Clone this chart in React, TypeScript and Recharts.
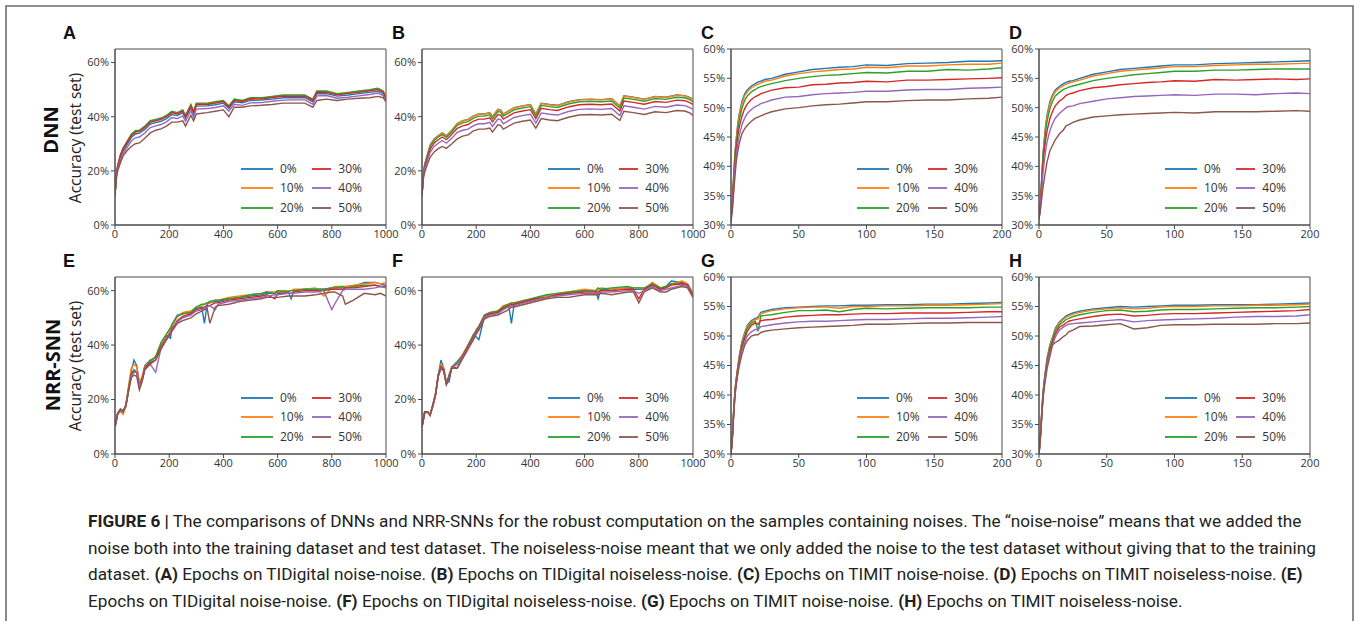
import React from 'react';
import { LineChart, Line, XAxis, YAxis, ReferenceArea, Legend } from 'recharts';

const FONT = "'Open Sans', 'DejaVu Sans', sans-serif";
const NOISE_LEVELS = ['0%', '10%', '20%', '30%', '40%', '50%'];
const COLORS = ['#1f77b4', '#ff7f0e', '#2ca02c', '#d62728', '#9467bd', '#8c564b'];

const TIDIGIT_X_TICKS = [0, 200, 400, 600, 800, 1000];
const TIMIT_X_TICKS = [0, 50, 100, 150, 200];
const TIDIGIT_Y_TICKS = [0, 20, 40, 60];
const TIMIT_Y_TICKS = [30, 35, 40, 45, 50, 55, 60];

// epochs sampled for each group of panels
const DNN_TI_EPOCHS = [0, 5, 10, 20, 30, 45, 60, 75, 90, 110, 130, 150, 170, 190, 210, 230, 250, 260, 280, 290, 300, 340, 370, 400, 420, 440, 470, 500, 540, 580, 620, 660, 700, 730, 745, 780, 820, 860, 900, 940, 970, 990, 1000];
const TIMIT_EPOCHS = [0, 1, 2, 3, 4, 5, 6, 8, 10, 12, 15, 18, 20, 22, 25, 30, 40, 50, 60, 70, 80, 90, 100, 115, 130, 145, 160, 175, 190, 200];
const SNN_E_EPOCHS = [0, 10, 20, 30, 40, 50, 60, 70, 80, 90, 100, 110, 130, 150, 170, 190, 205, 210, 230, 250, 280, 300, 320, 330, 340, 350, 370, 380, 420, 460, 500, 540, 560, 590, 600, 640, 650, 660, 700, 740, 770, 800, 810, 840, 850, 880, 920, 960, 980, 1000];
const SNN_F_EPOCHS = [0, 10, 20, 30, 40, 50, 60, 70, 80, 90, 100, 110, 130, 150, 170, 190, 200, 210, 230, 250, 280, 300, 320, 330, 340, 380, 420, 460, 500, 540, 600, 640, 650, 660, 700, 760, 780, 800, 820, 850, 880, 900, 920, 960, 980, 1000];

// (A) DNN, TIDigital noise-noise
const A_0 = [11, 18.5, 21.3, 25, 27.4, 29.8, 32.3, 33.6, 33.9, 35.3, 37.3, 37.8, 38.3, 39.3, 40.8, 40.4, 41.4, 39.4, 43.3, 40.9, 43.9, 44, 44.4, 45, 43, 45.5, 45.1, 46, 46.1, 46.5, 47, 47, 47, 45.5, 48.5, 48.5, 47.6, 48, 48.5, 49, 49.4, 48.5, 46.2];
const A_10 = [11, 18.9, 21.8, 25.8, 28.2, 30.7, 33.2, 34.4, 34.7, 36.2, 38.2, 38.7, 39.2, 40.2, 41.7, 41.2, 42.2, 40.2, 44.2, 41.7, 44.7, 44.7, 45.2, 45.7, 43.7, 46.2, 45.7, 46.7, 46.7, 47.2, 47.7, 47.7, 47.7, 46.2, 49.2, 49.2, 48.2, 48.7, 49.2, 49.7, 50.2, 49.2, 46.8];
const A_20 = [11, 19, 22, 26, 28.5, 31, 33.5, 34.8, 35, 36.5, 38.5, 39, 39.5, 40.5, 42, 41.5, 42.5, 40.5, 44.5, 42, 45, 45, 45.5, 46, 44, 46.5, 46, 47, 47, 47.5, 48, 48, 48, 46.5, 49.5, 49.5, 48.5, 49, 49.5, 50, 50.5, 49.5, 47];
const A_30 = [11, 18.8, 21.7, 25.6, 28.1, 30.5, 33, 34.3, 34.6, 36, 38, 38.5, 39, 40, 41.5, 41, 42, 40, 44, 41.6, 44.6, 44.5, 45, 45.6, 43.5, 46, 45.6, 46.6, 46.5, 47.1, 47.6, 47.5, 47.6, 46, 49.1, 49, 48.1, 48.6, 49, 49.6, 50, 49.1, 46.6];
const A_40 = [11, 18, 20.6, 24, 26.4, 28.7, 31, 32.2, 32.5, 34, 36, 36.6, 37.1, 38.1, 39.7, 39.3, 40.3, 38.3, 42.2, 39.8, 42.8, 43, 43.4, 44, 42, 44.6, 44.2, 45.1, 45.2, 45.7, 46.1, 46.2, 46.2, 44.6, 47.7, 47.8, 46.8, 47.2, 47.7, 48.2, 48.7, 47.8, 45.6];
const A_50 = [11, 17, 20, 23, 25.5, 27.5, 29, 30, 30.3, 32, 34, 35, 35.5, 36.5, 38, 38, 38.5, 36.5, 40.5, 38.5, 41, 41.5, 42, 42.5, 40, 43.5, 43.5, 44, 44.2, 44.5, 45, 45, 45, 43.5, 46, 46.5, 46, 46.5, 46.8, 47, 47.5, 47, 45.5];

// (B) DNN, TIDigital noiseless-noise
const B_0 = [11, 19, 22.5, 26, 29.5, 31.8, 33, 34, 33, 35, 37.5, 38.5, 39, 40.3, 41, 41, 41.5, 40, 42.7, 42.5, 41, 43.3, 44, 44.5, 41, 45, 44.5, 44.2, 45.5, 46.3, 46.5, 46.3, 46.6, 44, 47.7, 47.2, 46.5, 47.5, 47.2, 48, 47.8, 47, 46.4];
const B_10 = [11, 19, 22.4, 25.9, 29.4, 31.7, 32.9, 33.9, 32.9, 34.9, 37.4, 38.4, 38.9, 40.2, 40.9, 40.9, 41.4, 39.9, 42.6, 42.4, 40.9, 43.2, 43.9, 44.4, 40.9, 44.9, 44.4, 44.1, 45.4, 46.2, 46.4, 46.2, 46.5, 43.9, 47.6, 47.1, 46.4, 47.4, 47.1, 47.9, 47.7, 46.9, 46.3];
const B_20 = [11, 18.8, 22.1, 25.5, 29, 31.2, 32.5, 33.4, 32.4, 34.4, 36.8, 37.7, 38.2, 39.5, 40.2, 40.2, 40.7, 39.2, 41.9, 41.7, 40.2, 42.5, 43.2, 43.7, 40.3, 44.2, 43.7, 43.4, 44.7, 45.5, 45.7, 45.5, 45.8, 43.2, 46.9, 46.4, 45.7, 46.7, 46.4, 47.2, 47, 46.2, 45.6];
const B_30 = [11, 18.5, 21.5, 24.8, 28, 30.3, 31.5, 32.5, 31.5, 33.5, 35.7, 36.6, 37.1, 38.4, 39.1, 39.1, 39.6, 38.1, 40.8, 40.6, 39.1, 41.4, 42.1, 42.6, 39.3, 43.1, 42.6, 42.3, 43.6, 44.4, 44.6, 44.4, 44.7, 42.1, 45.8, 45.3, 44.6, 45.6, 45.3, 46.1, 45.9, 45.1, 44.5];
const B_40 = [11, 18, 20.8, 23.8, 26.8, 29, 30.2, 31.2, 30.2, 32, 34.2, 35, 35.4, 36.7, 37.4, 37.4, 37.9, 36.4, 39.1, 38.9, 37.4, 39.7, 40.4, 40.9, 37.6, 41.4, 40.9, 40.6, 41.9, 42.7, 42.9, 42.7, 43, 40.4, 44, 43.5, 42.8, 43.8, 43.5, 44.3, 44.1, 43.3, 42.7];
const B_50 = [11, 17, 19.5, 22.5, 25, 27, 28.2, 29, 28.3, 30, 31.8, 32.8, 33.3, 34.8, 35.4, 35.4, 35.8, 34.3, 37, 36.8, 35.4, 37.6, 38.3, 38.8, 35.8, 39.3, 38.8, 38.5, 39.8, 40.6, 40.8, 40.6, 40.9, 38.6, 42, 41.5, 40.8, 41.8, 41.5, 42.3, 42.1, 41.3, 40.4];

// (C) DNN, TIMIT noise-noise
const C_0 = [31.5, 34, 38.5, 42.5, 45, 47.3, 48.8, 51, 52.3, 53, 53.7, 54.1, 54.4, 54.5, 54.8, 55, 55.7, 56.1, 56.5, 56.7, 56.9, 57, 57.3, 57.2, 57.5, 57.6, 57.7, 57.9, 57.9, 58];
const C_10 = [31.5, 34, 38.3, 42.3, 44.8, 47, 48.5, 50.6, 52, 52.7, 53.4, 53.8, 54, 54.2, 54.5, 54.7, 55.4, 55.8, 56.1, 56.3, 56.5, 56.6, 56.9, 56.8, 57.1, 57.1, 57.3, 57.4, 57.4, 57.6];
const C_20 = [31.5, 33.8, 38, 41.8, 44.2, 46.3, 47.8, 49.8, 51.2, 52, 52.7, 53.1, 53.4, 53.6, 53.8, 54.1, 54.6, 55, 55.3, 55.5, 55.6, 55.8, 56, 55.9, 56.2, 56.2, 56.5, 56.4, 56.6, 56.8];
const C_30 = [31.5, 33.5, 37.5, 41, 43.3, 45.2, 46.6, 48.5, 49.8, 50.6, 51.4, 51.9, 52.1, 52.4, 52.6, 53, 53.4, 53.5, 53.9, 54, 54.2, 54.3, 54.5, 54.4, 54.7, 54.7, 54.8, 54.9, 55, 55.1];
const C_40 = [31, 33, 36.5, 40, 42, 43.8, 45.2, 47, 48.2, 49, 49.7, 50.2, 50.4, 50.7, 50.9, 51.3, 51.8, 51.9, 52.2, 52.4, 52.5, 52.6, 52.8, 52.8, 53, 53.1, 53.1, 53.3, 53.4, 53.5];
const C_50 = [30.5, 32.5, 35.5, 38.5, 41, 42.5, 43.8, 45.5, 46.4, 47, 47.7, 48.2, 48.4, 48.6, 48.9, 49.3, 49.8, 50, 50.3, 50.5, 50.6, 50.8, 51, 51, 51.2, 51.3, 51.3, 51.5, 51.6, 51.8];

// (D) DNN, TIMIT noiseless-noise
const D_0 = [31, 33.5, 38, 42.3, 44.8, 47.2, 48.8, 51, 52.2, 53, 53.6, 54.1, 54.3, 54.5, 54.6, 55, 55.7, 56.1, 56.5, 56.7, 56.9, 57.1, 57.3, 57.3, 57.5, 57.6, 57.7, 57.8, 57.9, 58];
const D_10 = [31, 33.5, 37.8, 42, 44.5, 46.9, 48.4, 50.6, 51.9, 52.7, 53.3, 53.8, 54, 54.2, 54.4, 54.7, 55.4, 55.8, 56.2, 56.4, 56.6, 56.8, 57, 57, 57.2, 57.3, 57.4, 57.4, 57.5, 57.6];
const D_20 = [31, 33.3, 37.5, 41.5, 44, 46.2, 47.7, 49.8, 51.1, 52, 52.6, 53.1, 53.3, 53.5, 53.7, 54, 54.6, 55, 55.3, 55.6, 55.8, 56, 56.2, 56.2, 56.4, 56.4, 56.5, 56.6, 56.6, 56.6];
const D_30 = [31.2, 33.3, 37.2, 40.6, 42.9, 44.7, 46.1, 48.1, 49.4, 50.3, 51.1, 51.6, 52.1, 52.3, 52.5, 52.9, 53.4, 53.6, 53.9, 54.1, 54.3, 54.4, 54.6, 54.5, 54.8, 54.7, 54.8, 54.9, 54.8, 54.9];
const D_40 = [31, 33, 36, 39, 41, 42.8, 44.2, 46, 47.3, 48.2, 49, 49.6, 50, 50.2, 50.3, 50.7, 51.1, 51.5, 51.7, 51.9, 52, 52.1, 52.2, 52.1, 52.3, 52.3, 52.2, 52.4, 52.5, 52.4];
const D_50 = [31, 32.5, 34.5, 36.5, 38, 39.5, 40.8, 42.6, 43.6, 44.5, 45.5, 46.2, 46.9, 47.1, 47.5, 47.9, 48.4, 48.6, 48.8, 48.9, 49, 49.1, 49.2, 49.1, 49.3, 49.3, 49.3, 49.4, 49.5, 49.4];

// (E) NRR-SNN, TIDigital noise-noise
const E_0 = [10, 15, 16.5, 15.5, 18, 24, 30.5, 34.5, 32.5, 26, 28, 32.5, 34.5, 35.5, 40.5, 43.5, 42.5, 47.5, 51, 51.5, 52, 53.5, 54, 48, 55, 55.5, 56, 56, 57, 57.5, 58, 58.5, 59, 59, 59.5, 59.5, 57, 60, 60.5, 60.5, 60.5, 61, 61, 61, 61, 61.5, 63, 63, 62.5, 62];
const E_10 = [10, 15, 15.5, 14.5, 18, 25, 31.5, 33, 32, 26, 28.5, 32, 34, 36, 40.5, 44, 46, 47, 50.5, 52, 52.5, 54, 54.5, 55, 55.5, 55.5, 56.5, 56.5, 57.5, 58, 58.5, 59, 59.5, 59.5, 60, 60, 60, 60.5, 60.5, 61, 58, 61, 61.5, 61.5, 61.5, 62, 62.5, 63, 62.5, 63];
const E_20 = [10, 15, 16.5, 16, 18, 24, 29.5, 31, 30, 24.5, 27, 31.5, 34, 35.5, 41, 44, 46.5, 47.5, 50.5, 51.5, 52, 54, 55, 55, 55.5, 56, 56.5, 56.5, 57, 57.5, 58.5, 59, 59.5, 59, 60, 59.5, 60, 60, 60.5, 60.5, 60.5, 61, 61, 61.5, 61, 61.5, 62, 62, 61.5, 61.5];
const E_30 = [10, 15, 16, 15.5, 17.5, 23.5, 29, 30.5, 30, 25, 27.5, 31.5, 33.5, 34.5, 39.5, 42.5, 45, 46, 49, 50.5, 51.5, 53, 53.5, 54, 54.5, 54.5, 55.5, 55.5, 56.5, 57, 57.5, 58, 58.5, 57, 59, 59, 59, 59.5, 60, 60, 60, 60.5, 60.5, 60.5, 61, 61, 61.5, 62, 61.5, 61.5];
const E_40 = [10, 14.5, 16, 15.5, 17.5, 23, 28.5, 30, 30, 25, 27, 31, 33, 30, 39, 42, 44.5, 45.5, 48.5, 50, 51, 52.5, 53, 53.5, 54, 54.5, 53, 55, 56, 56.5, 57, 57.5, 58, 58.5, 58.5, 59, 59, 59, 59.5, 59.5, 60, 53, 55, 60, 60.5, 60.5, 60.5, 61, 61.5, 61];
const E_50 = [10, 15, 16.5, 15.5, 17.5, 23, 28, 29, 28.5, 23.5, 26.5, 31, 33, 34.5, 38.5, 42, 44, 45, 48, 49, 50, 51.5, 52.5, 53, 53.5, 48, 54, 54.5, 55, 56, 56.5, 57, 57.5, 57.5, 57.5, 58, 58, 58, 58, 58.5, 59, 59.5, 59.5, 58, 55, 56.5, 59, 58.5, 59, 58];

// (F) NRR-SNN, TIDigital noiseless-noise
const F_0 = [10, 15.5, 15.5, 14.5, 18, 22, 29, 34.5, 31.5, 26, 26.5, 32, 34, 36.5, 40, 44, 43, 42, 50.5, 51.5, 52, 53.5, 54.5, 48, 55, 56, 57, 58, 58.5, 59, 60, 60, 57, 60.5, 60.5, 61, 60.5, 60.5, 60.5, 62.5, 60.5, 61.5, 63.5, 63, 62.5, 59];
const F_10 = [10, 15.5, 15.5, 14.5, 18, 22.5, 29, 33, 31.5, 26, 29, 32, 33.5, 36.5, 40, 43.5, 45.5, 47, 50.5, 51.5, 52.5, 54.5, 55, 55.5, 55.5, 56.5, 57, 58, 59, 59.5, 60.5, 60, 60, 61, 60.5, 61, 61, 61, 60.5, 63, 61, 61.5, 62.5, 63.5, 62.5, 58.5];
const F_20 = [10, 15.5, 15.5, 14.5, 18, 22, 29, 32, 31, 25.5, 29, 31.5, 33.5, 36, 40, 43.5, 45.5, 47, 51, 52, 52.5, 54, 55, 55.5, 55.5, 56.5, 57.5, 58.5, 59, 59.5, 60, 60, 61, 60.5, 61, 61.5, 61, 61, 61, 62.5, 61, 61.5, 62.5, 62.5, 62, 58];
const F_30 = [10, 15.5, 15.5, 14.5, 18, 22, 29, 32, 31, 26, 28.5, 32, 31.5, 36, 39.5, 43, 45, 46.5, 50.5, 51.5, 52, 53.5, 54.5, 55, 55, 56, 57, 57.5, 58.5, 59, 59.5, 59.5, 59.5, 60, 60, 60.5, 60.5, 57, 60.5, 62, 60.5, 61, 62, 62.5, 62, 58];
const F_40 = [10, 15, 15.5, 14.5, 17.5, 21.5, 28.5, 31.5, 30.5, 25.5, 28.5, 31.5, 33, 35.5, 39, 42.5, 44.5, 46, 50, 51, 51.5, 53, 54, 54.5, 54.5, 55.5, 56.5, 57.5, 58, 58.5, 59, 59, 59, 59.5, 59.5, 60, 60, 59, 60, 61.5, 60, 60.5, 61, 62, 61.5, 57.5];
const F_50 = [10, 15, 15.5, 14, 17.5, 21.5, 28.5, 31.5, 30.5, 25.5, 28, 31.5, 31.5, 35, 38.5, 42, 44, 45.5, 49.5, 50.5, 51, 52, 53, 54, 54, 55, 56, 57, 57.5, 57.5, 58.5, 58.5, 58.5, 59, 58.5, 59.5, 59.5, 55.5, 59.5, 61, 59.5, 59.5, 60.5, 61.5, 61, 57.5];

// (G) NRR-SNN, TIMIT noise-noise
const G_0 = [30, 33, 37.5, 41, 43, 44.8, 46.5, 49, 50.5, 51.8, 52.6, 53, 53.2, 54, 54.2, 54.5, 54.8, 54.9, 55, 55.1, 55.1, 55.2, 55.2, 55.3, 55.3, 55.4, 55.4, 55.5, 55.6, 55.7];
const G_10 = [30, 33, 37.5, 41, 43, 44.7, 46.3, 48.8, 50.3, 51.6, 52.4, 52.8, 52.9, 53.8, 54, 54.3, 54.6, 54.8, 54.9, 54.9, 54.7, 55, 55, 55.1, 55.1, 55.2, 55.2, 55.3, 55.4, 55.5];
const G_20 = [30, 33, 37.3, 40.8, 42.8, 44.5, 46, 48.5, 50, 51.3, 52.2, 52.5, 50.8, 53.4, 53.5, 53.6, 54, 54.3, 54.3, 54.4, 54.1, 54.5, 54.7, 54.6, 54.7, 54.8, 54.8, 54.8, 54.9, 54.9];
const G_30 = [30, 32.8, 37, 40.5, 42.5, 44.2, 45.7, 48, 49.5, 50.8, 51.8, 52.2, 52, 52.6, 52.7, 52.8, 53.2, 53.4, 53.5, 53.6, 53.6, 53.7, 53.8, 53.8, 53.9, 53.9, 53.9, 54, 54.1, 54.1];
const G_40 = [30, 32.7, 36.8, 40.2, 42.1, 43.8, 45.3, 47.5, 48.8, 50, 50.7, 51.1, 51.1, 51.6, 51.7, 51.9, 52.2, 52.4, 52.5, 52.5, 52.6, 52.7, 52.8, 52.8, 52.9, 53, 53, 53.1, 53.2, 53.3];
const G_50 = [30, 32.5, 36.5, 40, 42, 43.5, 44.8, 46.8, 48.3, 49.2, 50, 50.2, 50.2, 50.6, 50.8, 51, 51.2, 51.4, 51.5, 51.6, 51.7, 51.8, 52, 52, 52.1, 52.2, 52.2, 52.3, 52.3, 52.3];

// (H) NRR-SNN, TIMIT noiseless-noise
const H_0 = [30, 33, 37, 40.5, 42.7, 44.5, 46.3, 48.5, 49.8, 51.3, 52.4, 53, 53.4, 53.6, 53.9, 54.2, 54.6, 54.8, 55, 54.9, 55, 55.1, 55.2, 55.2, 55.3, 55.3, 55.3, 55.4, 55.5, 55.6];
const H_10 = [30, 33, 37, 40.5, 42.6, 44.4, 46.1, 48.3, 49.6, 51.1, 52.2, 52.8, 53.2, 53.4, 53.7, 54, 54.4, 54.6, 54.8, 54.6, 54.7, 54.9, 55, 55, 55.1, 55.1, 55.2, 55.2, 55.3, 55.4];
const H_20 = [30, 32.9, 36.8, 40.3, 42.4, 44.2, 45.9, 48, 49.4, 50.8, 51.9, 52.4, 52.8, 53, 53.3, 53.6, 54, 54.3, 54.4, 54.1, 54.2, 54.4, 54.5, 54.5, 54.6, 54.7, 54.8, 54.8, 54.9, 55];
const H_30 = [30, 32.8, 36.6, 40, 42.1, 43.9, 45.5, 47.6, 48.9, 50.3, 51.5, 51.9, 52.2, 52.5, 52.7, 52.9, 53.3, 53.6, 53.7, 53.4, 53.5, 53.7, 53.8, 53.8, 53.9, 54, 54.1, 54.2, 54.3, 54.5];
const H_40 = [30, 32.7, 36.4, 39.8, 41.8, 43.6, 45.2, 47.2, 48.5, 49.8, 51, 51.5, 51.8, 52, 52.1, 52.2, 52.4, 52.6, 52.8, 52.4, 52.6, 52.7, 52.8, 52.9, 53, 53.2, 53.3, 53.3, 53.4, 53.6];
const H_50 = [30, 32.5, 36, 39.4, 41.4, 43, 44.5, 46.5, 48.5, 48.9, 49.3, 49.9, 50.2, 50.7, 51, 51.6, 51.7, 51.9, 52.1, 51.2, 51.4, 51.8, 51.9, 51.9, 52, 52, 52, 52.1, 52.1, 52.2];

type PanelDef = {
  letter: string;
  plotLeft: number;
  plotTop: number;
  plotW: number;
  plotH: number;
  xs: number[];
  series: number[][];
  xDomain: [number, number];
  xTicks: number[];
  yDomain: [number, number];
  yTicks: number[];
};

const ROW1_TOP = 49;
const ROW2_TOP = 277;
const PW = 271;

const PANELS: PanelDef[] = [
  { letter: 'A', plotLeft: 115, plotTop: ROW1_TOP, plotW: PW, plotH: 176, xs: DNN_TI_EPOCHS, series: [A_0, A_10, A_20, A_30, A_40, A_50], xDomain: [0, 1000], xTicks: TIDIGIT_X_TICKS, yDomain: [0, 65], yTicks: TIDIGIT_Y_TICKS },
  { letter: 'B', plotLeft: 422, plotTop: ROW1_TOP, plotW: PW, plotH: 176, xs: DNN_TI_EPOCHS, series: [B_0, B_10, B_20, B_30, B_40, B_50], xDomain: [0, 1000], xTicks: TIDIGIT_X_TICKS, yDomain: [0, 65], yTicks: TIDIGIT_Y_TICKS },
  { letter: 'C', plotLeft: 731, plotTop: ROW1_TOP, plotW: PW, plotH: 176, xs: TIMIT_EPOCHS, series: [C_0, C_10, C_20, C_30, C_40, C_50], xDomain: [0, 200], xTicks: TIMIT_X_TICKS, yDomain: [30, 60], yTicks: TIMIT_Y_TICKS },
  { letter: 'D', plotLeft: 1039, plotTop: ROW1_TOP, plotW: PW, plotH: 176, xs: TIMIT_EPOCHS, series: [D_0, D_10, D_20, D_30, D_40, D_50], xDomain: [0, 200], xTicks: TIMIT_X_TICKS, yDomain: [30, 60], yTicks: TIMIT_Y_TICKS },
  { letter: 'E', plotLeft: 115, plotTop: ROW2_TOP, plotW: PW, plotH: 177, xs: SNN_E_EPOCHS, series: [E_0, E_10, E_20, E_30, E_40, E_50], xDomain: [0, 1000], xTicks: TIDIGIT_X_TICKS, yDomain: [0, 65], yTicks: TIDIGIT_Y_TICKS },
  { letter: 'F', plotLeft: 422, plotTop: ROW2_TOP, plotW: PW, plotH: 177, xs: SNN_F_EPOCHS, series: [F_0, F_10, F_20, F_30, F_40, F_50], xDomain: [0, 1000], xTicks: TIDIGIT_X_TICKS, yDomain: [0, 65], yTicks: TIDIGIT_Y_TICKS },
  { letter: 'G', plotLeft: 731, plotTop: ROW2_TOP, plotW: PW, plotH: 177, xs: TIMIT_EPOCHS, series: [G_0, G_10, G_20, G_30, G_40, G_50], xDomain: [0, 200], xTicks: TIMIT_X_TICKS, yDomain: [30, 60], yTicks: TIMIT_Y_TICKS },
  { letter: 'H', plotLeft: 1039, plotTop: ROW2_TOP, plotW: PW, plotH: 177, xs: TIMIT_EPOCHS, series: [H_0, H_10, H_20, H_30, H_40, H_50], xDomain: [0, 200], xTicks: TIMIT_X_TICKS, yDomain: [30, 60], yTicks: TIMIT_Y_TICKS },
];

const Y_AXIS_W = 40;
const TOP_M = 12;
const X_AXIS_H = 25;
const RIGHT_M = 18;
const AXIS_COLOR = '#4a4a4a';
const TICK_STYLE = { fontSize: 11, fill: '#333', fontFamily: FONT };

const renderLegend = () => (
  <div
    style={{
      display: 'grid',
      gridTemplateColumns: '71px 50px',
      gridTemplateRows: 'repeat(3, 19.5px)',
      gridAutoFlow: 'column',
      fontFamily: FONT,
      fontSize: 12,
      color: '#333',
    }}
  >
    {NOISE_LEVELS.map((lab, i) => (
      <div key={lab} style={{ display: 'flex', alignItems: 'center' }}>
        <svg width={32} height={4} style={{ marginRight: 7, display: 'block' }}>
          <line x1={0} y1={2} x2={32} y2={2} stroke={COLORS[i]} strokeWidth={1.8} />
        </svg>
        <span style={{ lineHeight: '12px' }}>{lab}</span>
      </div>
    ))}
  </div>
);

function Panel({ p }: { p: PanelDef }) {
  const data = p.xs.map((x, i) => {
    const row: Record<string, number> = { x };
    p.series.forEach((s, j) => {
      row['s' + j] = s[i];
    });
    return row;
  });
  const W = Y_AXIS_W + p.plotW + RIGHT_M;
  const H = TOP_M + p.plotH + X_AXIS_H;
  return (
    <div style={{ position: 'absolute', left: p.plotLeft - Y_AXIS_W, top: p.plotTop - TOP_M }}>
      <LineChart width={W} height={H} data={data} margin={{ top: TOP_M, right: RIGHT_M, bottom: 0, left: 0 }}>
        <XAxis
          dataKey="x"
          type="number"
          domain={p.xDomain}
          ticks={p.xTicks}
          interval={0}
          allowDataOverflow
          height={X_AXIS_H}
          tickSize={4}
          tickMargin={1}
          stroke={AXIS_COLOR}
          tick={TICK_STYLE}
        />
        <YAxis
          type="number"
          domain={p.yDomain}
          ticks={p.yTicks}
          interval={0}
          allowDataOverflow
          width={Y_AXIS_W}
          tickSize={4}
          tickMargin={2}
          stroke={AXIS_COLOR}
          tick={TICK_STYLE}
          tickFormatter={(v: number) => `${v}%`}
        />
        <ReferenceArea
          x1={p.xDomain[0]}
          x2={p.xDomain[1]}
          y1={p.yDomain[0]}
          y2={p.yDomain[1]}
          fill="none"
          fillOpacity={0}
          stroke={AXIS_COLOR}
          strokeWidth={1}
          ifOverflow="visible"
        />
        {p.series.map((_, j) => (
          <Line
            key={j}
            dataKey={'s' + j}
            name={NOISE_LEVELS[j]}
            type="linear"
            stroke={COLORS[j]}
            strokeWidth={1.4}
            dot={false}
            activeDot={false}
            isAnimationActive={false}
          />
        ))}
        <Legend
          layout="horizontal"
          verticalAlign="middle"
          align="center"
          content={renderLegend}
          wrapperStyle={{ left: Y_AXIS_W + 126, top: TOP_M + p.plotH - 66, width: 125 }}
        />
      </LineChart>
    </div>
  );
}

const CAPTION_STYLE: React.CSSProperties = {
  position: 'absolute',
  left: 88,
  top: 508,
  fontFamily: "Roboto, 'Liberation Sans', sans-serif",
  fontSize: 17.2,
  lineHeight: '26.7px',
  color: '#231f20',
  whiteSpace: 'nowrap',
};

export default function App() {
  return (
    <div style={{ position: 'absolute', left: 0, top: 0, width: 1359, height: 621, background: '#fff', overflow: 'hidden' }}>
      <svg width={1359} height={621} style={{ position: 'absolute', left: 0, top: 0 }}>
        <path d="M6,640 V6 H1353 V640" fill="none" stroke="#6d6d6d" strokeWidth={1.6} />
        {PANELS.map((p) => (
          <text
            key={p.letter}
            x={p.plotLeft - (p.plotLeft === 115 ? 52 : 30)}
            y={p.plotTop - 10}
            fontFamily="'Liberation Sans', Arial, sans-serif"
            fontWeight="bold"
            fontSize={18}
            fill="#111"
          >
            {p.letter}
          </text>
        ))}
        <text transform="translate(50,130) rotate(-90)" textAnchor="middle" dominantBaseline="central" fontFamily={FONT} fontWeight={700} fontSize={20} fill="#111">DNN</text>
        <text transform="translate(75,138) rotate(-90)" textAnchor="middle" dominantBaseline="central" fontFamily={FONT} fontSize={15.5} fill="#222">Accuracy (test set)</text>
        <text transform="translate(52,365) rotate(-90)" textAnchor="middle" dominantBaseline="central" fontFamily={FONT} fontWeight={700} fontSize={20} fill="#111">NRR-SNN</text>
        <text transform="translate(75,366) rotate(-90)" textAnchor="middle" dominantBaseline="central" fontFamily={FONT} fontSize={15.5} fill="#222">Accuracy (test set)</text>
      </svg>
      {PANELS.map((p) => (
        <Panel key={p.letter} p={p} />
      ))}
      <div style={CAPTION_STYLE}>
        <div><b>FIGURE 6 |</b> The comparisons of DNNs and NRR-SNNs for the robust computation on the samples containing noises. The “noise-noise” means that we added the</div>
        <div>noise both into the training dataset and test dataset. The noiseless-noise meant that we only added the noise to the test dataset without giving that to the training</div>
        <div>dataset. <b>(A)</b> Epochs on TIDigital noise-noise. <b>(B)</b> Epochs on TIDigital noiseless-noise. <b>(C)</b> Epochs on TIMIT noise-noise. <b>(D)</b> Epochs on TIMIT noiseless-noise. <b>(E)</b></div>
        <div>Epochs on TIDigital noise-noise. <b>(F)</b> Epochs on TIDigital noiseless-noise. <b>(G)</b> Epochs on TIMIT noise-noise. <b>(H)</b> Epochs on TIMIT noiseless-noise.</div>
      </div>
    </div>
  );
}
